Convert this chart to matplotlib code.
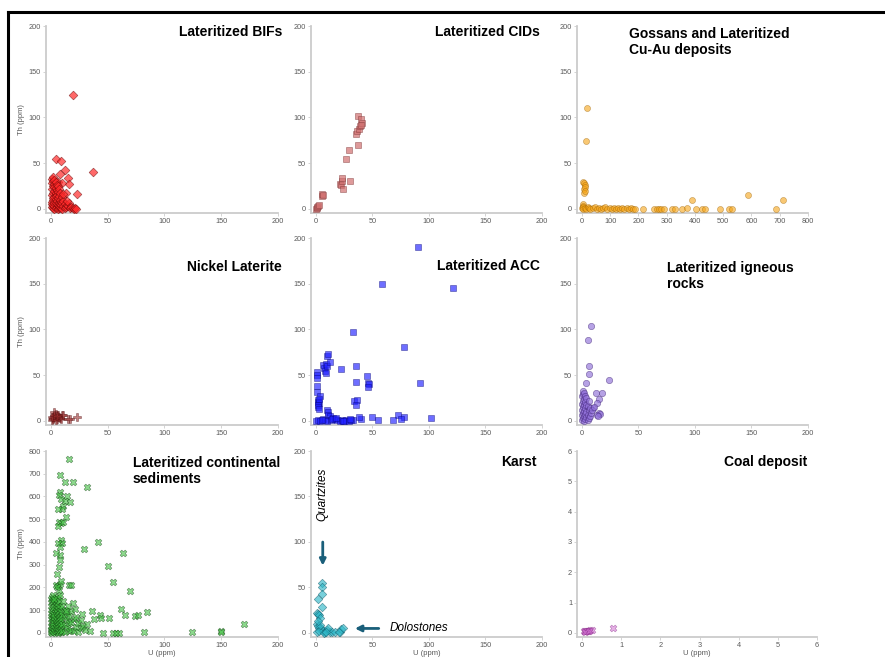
import matplotlib
matplotlib.use("Agg")
import matplotlib.pyplot as plt
from matplotlib.lines import Line2D

plt.rcParams['font.family'] = ['Liberation Sans', 'DejaVu Sans']

# ---- data (U ppm, Th ppm) ----
bif_u = [19, 37, 4, 9, 12, 23, 15, 8, 16, 6, 10, 13,
         1, 1, 1, 1, 1, 1, 1, 2, 2, 2, 2, 2, 2, 2, 2, 3, 3, 3, 3, 3, 3, 3, 3,
         4, 4, 4, 4, 4, 4, 4, 5, 5, 5, 5, 5, 5, 6, 6, 6, 6, 6, 7, 7, 7, 7, 7,
         8, 8, 8, 8, 9, 9, 9, 10, 10, 10, 11, 11, 12, 12,
         13, 14, 15, 16, 17, 18, 19, 20, 21, 22, 14, 11]
bif_th = [125, 40, 55, 52, 43, 16, 34, 38, 27, 30, 28, 18,
          2, 8, 15, 22, 28, 33, 5, 1, 4, 10, 18, 25, 31, 35, 12, 0, 3, 7, 13, 20, 27, 32, 24,
          1, 6, 11, 17, 23, 30, 14, 2, 9, 15, 21, 26, 5, 0, 4, 12, 19, 25, 1, 7, 14, 22, 3,
          2, 10, 17, 5, 1, 8, 4, 0, 6, 13, 3, 9, 1, 5,
          2, 4, 3, 7, 1, 2, 1, 0, 1, 0, 9, 16]

cid_u = [0, 1, 1, 2, 3, 5, 5, 6, 21, 22, 24, 23, 23, 27, 29, 30, 35, 36, 37, 38, 37, 39, 40, 41, 40]
cid_th = [0, 1, 2, 3, 4, 14, 16, 15, 27, 26, 22, 31, 34, 55, 64, 31, 82, 85, 102, 87, 70, 91, 98, 94, 92]

gos_u = [18, 14, 5, 8, 12, 6, 7, 9, 10, 4, 3,
         0, 2, 5, 10, 15, 20, 25, 30, 38, 45, 52, 60, 68, 75, 82, 90, 98, 105, 112, 120,
         128, 135, 142, 150, 158, 165, 172, 180, 188,
         215, 255, 265, 272, 280, 292, 318, 330, 355, 370,
         390, 402, 425, 435, 490, 520, 530, 588, 685, 712]
gos_th = [110, 74, 30, 28, 26, 22, 18, 24, 20, 5, 3,
          1, 2, 0, 1, 0, 2, 1, 0, 1, 2, 0, 1, 0, 1, 2, 0, 1, 0, 1, 0,
          1, 0, 1, 0, 1, 0, 1, 0, 0,
          0, 0, 0, 0, 0, 0, 0, 0, 0, 1,
          10, 0, 0, 0, 0, 0, 0, 15, 0, 10]

ni_u = [2, 3, 4, 3, 5, 1, 2, 6, 8, 10, 9, 11, 15, 17, 23, 4, 6, 1, 3, 5]
ni_th = [3, 10, 8, 5, 2, 1, 2, 4, 3, 7, 2, 6, 2, 2, 4, 1, 6, 4, 7, 5]

acc_u = [90, 58, 121, 33, 78, 92, 22, 35, 35, 45, 46, 47, 46, 34, 36, 35, 102, 73, 78, 75, 68, 50, 55, 40, 38, 33,
         1, 1, 1, 1, 1, 2, 2, 3, 2, 2, 3, 4, 3, 6, 7, 8, 9, 9, 10, 10, 11, 12, 10, 11, 11, 12,
         0, 2, 4, 6, 8, 10, 13, 15, 17, 19, 21, 23, 25, 27, 29, 31, 5, 14, 18, 24, 30]
acc_th = [190, 150, 145, 97, 81, 41, 57, 60, 43, 49, 41, 40, 37, 22, 23, 17, 3, 7, 4, 2, 1, 4, 1, 2, 4, 1,
          53, 50, 47, 38, 32, 23, 21, 20, 18, 15, 13, 27, 24, 61, 58, 55, 52, 62, 60, 71, 73, 65, 12, 10, 7, 5,
          0, 1, 0, 2, 1, 0, 1, 3, 2, 1, 0, 1, 0, 1, 0, 1, 1, 2, 3, 0, 2]

ign_u = [8, 5, 6, 6, 4, 24, 12, 18, 15, 13, 10, 15, 16, 13, 14,
         0, 0, 0, 0, 0, 1, 1, 1, 1, 1, 1, 2, 2, 2, 2, 2, 2, 3, 3, 3, 3, 3,
         4, 4, 4, 4, 5, 5, 5, 6, 6, 6, 7, 7, 8, 9, 11]
ign_th = [104, 88, 60, 51, 42, 45, 31, 31, 24, 20, 14, 9, 8, 6, 5,
          1, 6, 12, 19, 27, 3, 9, 15, 22, 29, 33, 0, 5, 11, 17, 24, 31, 2, 8, 14, 21, 27,
          4, 10, 18, 25, 1, 7, 16, 3, 12, 22, 5, 14, 9, 12, 15]

con_u_hi = [16, 8, 12, 19, 32, 8, 7, 9, 14, 12, 17, 11, 10, 6, 13, 7, 9, 11, 6, 9,
            10, 6, 8, 8, 4, 8, 7, 5, 29, 41, 63, 50, 55, 70, 62, 43, 44, 51, 65, 74,
            77, 85, 36, 38, 60, 55, 57, 46, 82, 124, 150, 150, 170, 4, 6, 8, 16, 18, 9, 7, 5, 3]
con_th_hi = [765, 695, 665, 665, 640, 620, 605, 590, 600, 580, 575, 560, 545, 545, 510, 490, 485, 490, 470, 410,
             395, 395, 380, 345, 350, 320, 290, 260, 370, 398, 350, 293, 222, 185, 105, 80, 65, 65, 78, 75,
             80, 92, 95, 60, 2, 2, 2, 2, 5, 5, 8, 3, 40, 210, 205, 215, 210, 212, 230, 190, 200, 150]
con_u_lo = [0, 0, 0, 0, 0, 0, 0, 1, 1, 1, 1, 1, 1, 1, 2, 2, 2, 2, 2, 2, 2, 2,
            3, 3, 3, 3, 3, 3, 3, 4, 4, 4, 4, 4, 4, 4, 5, 5, 5, 5, 5, 5, 6, 6, 6, 6, 6, 6,
            7, 7, 7, 7, 7, 8, 8, 8, 8, 8, 9, 9, 9, 9, 10, 10, 10, 10, 12, 12, 12, 12,
            14, 14, 14, 16, 16, 16, 18, 18, 18, 20, 20, 22, 22, 24, 24, 26, 26,
            28, 30, 32, 34, 27, 21, 19, 15, 13, 11]
con_th_lo = [5, 30, 60, 90, 120, 150, 15, 0, 25, 50, 75, 100, 135, 160, 10, 35, 65, 85, 110, 140, 165, 45,
             3, 20, 55, 80, 115, 145, 70, 8, 40, 62, 95, 125, 155, 28, 12, 33, 58, 88, 130, 105, 2, 22, 48, 78, 118, 160,
             6, 38, 68, 98, 140, 15, 45, 72, 110, 165, 4, 30, 60, 92, 10, 40, 80, 120, 5, 35, 70, 100,
             20, 55, 90, 8, 45, 75, 15, 50, 95, 10, 60, 25, 70, 5, 45, 20, 55,
             30, 15, 40, 10, 85, 105, 130, 120, 95, 140]

kar_u = [5, 5, 5, 2, 5, 1, 2, 3, 4, 1, 2, 3, 5, 6, 8, 10, 12, 11, 14, 17, 21, 22, 24, 20, 1, 3, 4, 2, 7, 9]
kar_th = [55, 51, 43, 37, 29, 22, 21, 20, 17, 10, 8, 6, 4, 2, 1, 3, 1, 5, 1, 1, 1, 4, 6, 1, 1, 2, 9, 13, 0, 1]

coal_u = [0.05, 0.1, 0.08, 0.15, 0.2, 0.25, 0.12, 0.8, 0.06, 0.18]
coal_th = [0.05, 0.05, 0.08, 0.08, 0.1, 0.1, 0.05, 0.18, 0.02, 0.06]

W, H = 885, 657
fig = plt.figure(figsize=(W / 100, H / 100), dpi=100)


def px_axes(l, t, r, b):
    return fig.add_axes([l / W, 1 - b / H, (r - l) / W, (b - t) / H])


def style(ax, xmax, ymax, xstep, ystep):
    ax.set_xlim(-0.022 * xmax, xmax)
    ax.set_ylim(-0.022 * ymax, ymax)
    ax.set_xticks([i * xstep for i in range(int(round(xmax / xstep)) + 1)])
    ax.set_yticks([i * ystep for i in range(int(round(ymax / ystep)) + 1)])
    for s in ['top', 'right']:
        ax.spines[s].set_visible(False)
    for s in ['left', 'bottom']:
        ax.spines[s].set_color('#cccccc')
        ax.spines[s].set_linewidth(1.3)
    ax.tick_params(length=2, width=0.6, color='#cccccc', labelcolor='#5a5a5a',
                   labelsize=5.3, pad=1.5)


def pts(ax, u, th, marker, fc, ec, s=20, alpha=0.65):
    ax.scatter(u, th, marker=marker, s=s, facecolor=fc, edgecolor=ec,
               linewidth=0.4, alpha=alpha, zorder=3)


cols = [(46, 278), (311, 542), (577, 808)]
rows = [(26, 213), (238, 425), (451, 637)]

ax1 = px_axes(cols[0][0], rows[0][0], cols[0][1], rows[0][1])
ax2 = px_axes(cols[1][0], rows[0][0], cols[1][1], rows[0][1])
ax3 = px_axes(cols[2][0], rows[0][0], cols[2][1], rows[0][1])
ax4 = px_axes(cols[0][0], rows[1][0], cols[0][1], rows[1][1])
ax5 = px_axes(cols[1][0], rows[1][0], cols[1][1], rows[1][1])
ax6 = px_axes(cols[2][0], rows[1][0], cols[2][1], rows[1][1])
ax7 = px_axes(cols[0][0], rows[2][0], cols[0][1], rows[2][1])
ax8 = px_axes(cols[1][0], rows[2][0], cols[1][1], rows[2][1])
ax9 = px_axes(cols[2][0], rows[2][0], 817, rows[2][1])

style(ax1, 200, 200, 50, 50)
style(ax2, 200, 200, 50, 50)
style(ax3, 800, 200, 100, 50)
style(ax4, 200, 200, 50, 50)
style(ax5, 200, 200, 50, 50)
style(ax6, 200, 200, 50, 50)
style(ax7, 200, 800, 50, 100)
style(ax8, 200, 200, 50, 50)
style(ax9, 6, 6, 1, 1)

pts(ax1, bif_u, bif_th, 'D', '#ff2a2a', '#600000', s=20, alpha=0.7)
pts(ax2, cid_u, cid_th, 's', '#d07070', '#7a3030', s=18, alpha=0.7)
pts(ax3, gos_u, gos_th, 'o', '#f5a418', '#9a6000', s=19, alpha=0.6)
pts(ax4, ni_u, ni_th, 'P', '#9a2c2c', '#4a0a0a', s=26, alpha=0.6)
pts(ax5, acc_u, acc_th, 's', '#2020ff', '#000070', s=17, alpha=0.65)
pts(ax6, ign_u, ign_th, 'o', '#9070d8', '#3a1e70', s=21, alpha=0.65)
pts(ax7, con_u_lo, con_th_lo, 'X', '#40c040', '#104010', s=24, alpha=0.6)
pts(ax7, con_u_hi, con_th_hi, 'X', '#40c040', '#104010', s=24, alpha=0.6)
pts(ax8, kar_u, kar_th, 'D', '#30b8c8', '#0c5060', s=19, alpha=0.65)
pts(ax9, coal_u, coal_th, 'X', '#d070d0', '#802080', s=24, alpha=0.55)

for ax in [ax1, ax4, ax7]:
    ax.set_ylabel('Th (ppm)', fontsize=5.5, color='#5a5a5a', labelpad=3)
for ax in [ax7, ax8, ax9]:
    ax.set_xlabel('U (ppm)', fontsize=5.5, color='#5a5a5a', labelpad=1)


def title(x, y, s, ha):
    fig.text(x / W, 1 - y / H, s, ha=ha, va='center', fontsize=10,
             fontweight='bold', color='black', linespacing=1.15)


title(282, 32, 'Lateritized BIFs', 'right')
title(540, 32, 'Lateritized CIDs', 'right')
title(629, 42, 'Gossans and Lateritized\nCu-Au deposits', 'left')
title(282, 267, 'Nickel Laterite', 'right')
title(540, 266, 'Lateritized ACC', 'right')
title(667, 276, 'Lateritized igneous\nrocks', 'left')
title(133, 471, 'Lateritized continental\nsediments', 'left')
title(537, 462, 'Karst', 'right')
title(807, 462, 'Coal deposit', 'right')

# karst annotations
arrow_c = '#1a5f7a'
ax8.annotate('', xy=(6, 71), xytext=(6, 103),
             arrowprops=dict(arrowstyle='-|>', lw=2, color=arrow_c, mutation_scale=9))
ax8.annotate('', xy=(32, 5), xytext=(58, 5),
             arrowprops=dict(arrowstyle='-|>', lw=2, color=arrow_c, mutation_scale=9))
ax8.text(5.5, 152, 'Quartzites', rotation=90, style='italic', fontsize=8.5,
         ha='center', va='center')
ax8.text(65, 5, 'Dolostones', style='italic', fontsize=8.5, ha='left', va='center')

# outer frame (top and left edges)
fig.add_artist(Line2D([8 / W, 1], [1 - 11.5 / H, 1 - 11.5 / H], color='black', lw=2.2))
fig.add_artist(Line2D([8 / W, 8 / W], [1 - 11.5 / H, 0], color='black', lw=2.2))

fig.savefig('out.png', dpi=100)
